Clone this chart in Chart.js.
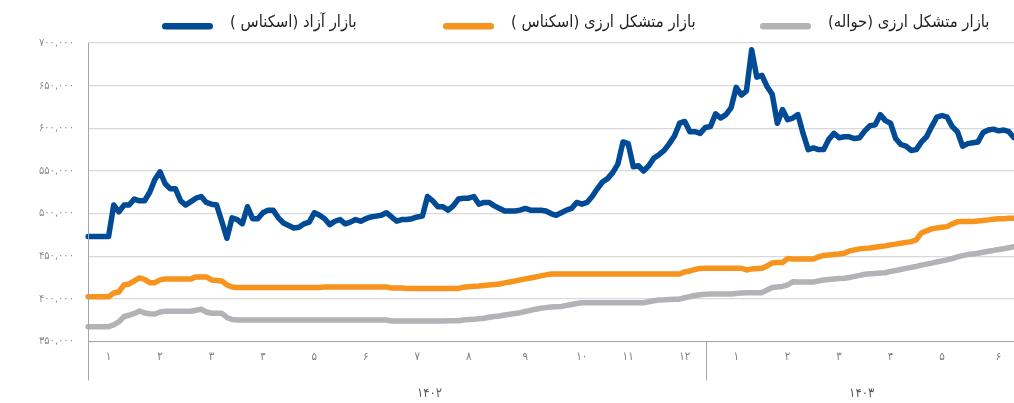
<!DOCTYPE html>
<html>
<head>
<meta charset="utf-8">
<script src="https://cdn.jsdelivr.net/npm/chart.js@4.4.1/dist/chart.umd.min.js"></script>
<style>
html,body{margin:0;padding:0;background:#fff;overflow:hidden;}
#wrap{width:1014px;height:403px;position:relative;}
</style>
</head>
<body>
<div id="wrap"><canvas id="c"></canvas></div>
<script>
// ---- DATA ----
const seriesNames = ['بازار آزاد (اسکناس )', 'بازار متشکل ارزی (اسکناس )', 'بازار متشکل ارزی (حواله)'];
const monthLabels = ['۱','۲','۳','۴','۵','۶','۷','۸','۹','۱۰','۱۱','۱۲','۱','۲','۳','۴','۵','۶'];
const monthTickIndex = [4,14,24,34,44,54,64,74,85,96,105,116,126,136,146,156,166,177];
const yearLabels = ['۱۴۰۲','۱۴۰۳'];
const yearLabelIndex = [66,150];
const yearBoundaryIndex = [120];
const yTicks = [350000,400000,450000,500000,550000,600000,650000,700000];

const freeMarket = [
473000,473000,473000,473000,473000,510000,502000,510000,510000,517000,
515000,515000,525000,540000,549000,535000,529000,529000,515000,510000,
514000,518000,520000,513000,511000,510000,491000,471000,495000,493000,
488000,508000,494000,494000,501000,504000,504000,495000,489000,486000,
483000,484000,488000,490000,501000,498000,494000,487000,491000,493000,
488000,490000,493000,491000,494000,496000,497000,498000,501000,496000,
491000,493000,493000,494000,496000,497000,520000,515000,508000,508000,
504000,509000,517000,518000,518000,520000,511000,513000,513000,509000,
506000,503000,503000,503000,504000,506000,504000,504000,504000,503000,
500000,498000,501000,504000,506000,513000,511000,513000,520000,529000,
537000,541000,548000,558000,584000,582000,555000,556000,550000,556000,
565000,569000,574000,582000,591000,606000,608000,596000,596000,594000,
601000,602000,617000,612000,616000,624000,648000,639000,644000,692000,
660000,662000,649000,640000,606000,622000,610000,612000,616000,594000,
575000,577000,575000,575000,587000,594000,589000,590000,590000,588000,
589000,597000,603000,604000,616000,609000,606000,588000,581000,579000,
574000,575000,584000,590000,602000,613000,615000,613000,602000,596000,
579000,582000,583000,584000,595000,598000,599000,597000,598000,596000,
589000];

const exchangeCash = [
402600,402600,402600,402600,402600,406900,408100,416300,417500,421000,
424500,422800,419000,419000,422200,423400,423400,423400,423400,423400,
423400,425700,425700,425700,422200,421600,421000,416300,414000,413400,
413400,413400,413400,413400,413400,413400,413400,413400,413400,413400,
413400,413400,413400,413400,413400,413400,414000,414000,414000,414000,
414000,414000,414000,414000,414000,414000,414000,414000,414000,412800,
412800,412800,412200,412200,412200,412200,412200,412200,412200,412200,
412200,412200,412200,413700,414200,414700,415100,415700,416300,416900,
417500,418700,419800,421000,422200,423400,424500,425700,426900,428100,
429200,429200,429200,429200,429200,429200,429200,429200,429200,429200,
429200,429200,429200,429200,429200,429200,429200,429200,429200,429200,
429200,429200,429200,429200,429200,429200,431600,432700,434500,435700,
435900,435900,435900,435900,435900,435900,435900,435900,433900,435100,
435700,435900,438600,442100,442500,442500,447400,446800,446800,446800,
446800,446800,449200,450900,451500,452100,452700,453500,456200,457400,
458600,459200,459700,460600,461300,462100,463300,464200,465300,466200,
467100,469100,477300,479700,482000,483200,484000,484700,487900,490300,
490600,490600,490600,491400,492000,492600,493400,493800,494000,494400,
494600];

const exchangeRemit = [
367400,367400,367400,367400,367400,369400,372900,379300,380800,382900,
385800,383500,382500,382300,384600,385400,385400,385400,385400,385400,
385400,386700,387800,384600,383100,383100,383100,378200,375800,375200,
375200,375200,375200,375200,375200,375200,375200,375200,375200,375200,
375200,375200,375200,375200,375200,375200,375200,375200,375200,375200,
375200,375200,375200,375200,375200,375200,375200,375200,375200,374100,
374100,374100,374100,374100,374100,374100,374100,374100,374100,374100,
374400,374400,374400,375200,375700,376100,376800,377200,378400,379300,
379900,381000,381900,382900,383800,385200,386500,387900,389000,389700,
390500,390800,391100,392300,393400,394600,395500,395500,395500,395500,
395500,395500,395500,395500,395500,395500,395500,395500,395500,396600,
397800,398700,398900,399300,399500,399600,401300,402700,403900,404800,
405500,405800,405800,405800,405800,405800,406300,406900,407300,407300,
407300,407300,410400,413400,414000,414600,416300,420100,419800,419800,
419800,419800,421000,422200,422800,423400,423800,424200,425100,426300,
427500,428900,429500,429800,430300,430600,432200,433300,434500,435700,
436900,438000,439600,440700,441900,443300,444500,445700,447300,449200,
450700,451900,452700,453500,454700,455900,456800,457900,458800,460000,
461300];

// ---- helpers ----
const FA = '۰۱۲۳۴۵۶۷۸۹';
const toFa = s => String(s).replace(/\d/g, d => FA[d]);
const categories = freeMarket.map(() => '');
monthTickIndex.forEach((idx, k) => { categories[idx] = monthLabels[k]; });

const FONT = '"DejaVu Sans Condensed", "DejaVu Sans", sans-serif';
const colors = ['#004A96', '#F7941E', '#B2B3B6'];
const legendSwatchLeft = [162, 443, 760];

const spacing = {
  id: 'spacing',
  beforeDraw(chart) { chart.ctx.letterSpacing = '4px'; },
  beforeDatasetsDraw(chart) { chart.ctx.letterSpacing = '0px'; }
};

const decor = {
  id: 'decor',
  afterDraw(chart) {
    const {ctx, chartArea, scales} = chart;
    const bottom = chartArea.bottom + 39;
    ctx.save();
    ctx.letterSpacing = '0px';
    ctx.strokeStyle = '#A6A6A6';
    ctx.lineWidth = 1;
    ctx.beginPath();
    ctx.moveTo(Math.round(chartArea.left) + 0.5, chartArea.top);
    ctx.lineTo(Math.round(chartArea.left) + 0.5, bottom);
    ctx.stroke();
    yearBoundaryIndex.forEach(idx => {
      const x = Math.round(scales.x.getPixelForValue(idx)) + 1.5;
      ctx.beginPath();
      ctx.moveTo(x, chartArea.bottom);
      ctx.lineTo(x, bottom);
      ctx.stroke();
    });
    // year labels
    ctx.letterSpacing = '3px';
    ctx.fillStyle = '#595959';
    ctx.font = '13px ' + FONT;
    ctx.textAlign = 'center';
    ctx.textBaseline = 'middle';
    yearLabels.forEach((t, k) => {
      ctx.fillText(t, scales.x.getPixelForValue(yearLabelIndex[k]) + 2, 394);
    });
    // legend
    ctx.letterSpacing = '0px';
    ctx.font = '16.5px ' + FONT;
    ctx.direction = 'rtl';
    ctx.textAlign = 'left';
    ctx.textBaseline = 'alphabetic';
    chart.data.datasets.forEach((ds, k) => {
      const sx = legendSwatchLeft[k];
      ctx.fillStyle = ds.borderColor;
      ctx.beginPath();
      ctx.roundRect(sx, 23, 51, 6.5, 3.25);
      ctx.fill();
      ctx.fillStyle = '#1F1F1F';
      ctx.fillText(ds.label, sx + 51 + 17, 27);
    });
    ctx.restore();
  }
};

new Chart(document.getElementById('c'), {
  type: 'line',
  data: {
    labels: categories,
    datasets: [
      {label: seriesNames[0], data: freeMarket, borderColor: colors[0], backgroundColor: colors[0], borderWidth: 5.5},
      {label: seriesNames[1], data: exchangeCash, borderColor: colors[1], backgroundColor: colors[1], borderWidth: 5.5},
      {label: seriesNames[2], data: exchangeRemit, borderColor: colors[2], backgroundColor: colors[2], borderWidth: 5.5}
    ]
  },
  options: {
    responsive: true,
    maintainAspectRatio: false,
    animation: false,
    layout: {padding: {top: 43, right: 0, left: 0, bottom: 0}},
    elements: {
      line: {tension: 0, borderJoinStyle: 'round', borderCapStyle: 'round'},
      point: {radius: 0, hoverRadius: 0}
    },
    plugins: {legend: {display: false}, tooltip: {enabled: false}},
    scales: {
      x: {
        type: 'category',
        offset: false,
        grid: {display: false, drawTicks: false},
        border: {display: true, color: '#A6A6A6', width: 1},
        ticks: {autoSkip: false, maxRotation: 0, padding: 9, color: '#7F7F7F', font: {family: FONT, size: 11.5}},
        afterFit(s) { s.height = 61.5; s.paddingLeft = 0; s.paddingRight = 0; }
      },
      y: {
        min: 350000, max: 700000,
        afterBuildTicks(s) { s.ticks = yTicks.map(v => ({value: v})); },
        grid: {color: '#D9D9D9', lineWidth: 1.3, drawTicks: false},
        border: {display: false},
        ticks: {padding: 14, color: '#8C8C8C', font: {family: FONT, size: 11},
          callback: v => toFa(Number(v).toLocaleString('en-US'))},
        afterFit(s) { s.width = 88; }
      }
    }
  },
  plugins: [spacing, decor]
});
</script>
</body>
</html>
